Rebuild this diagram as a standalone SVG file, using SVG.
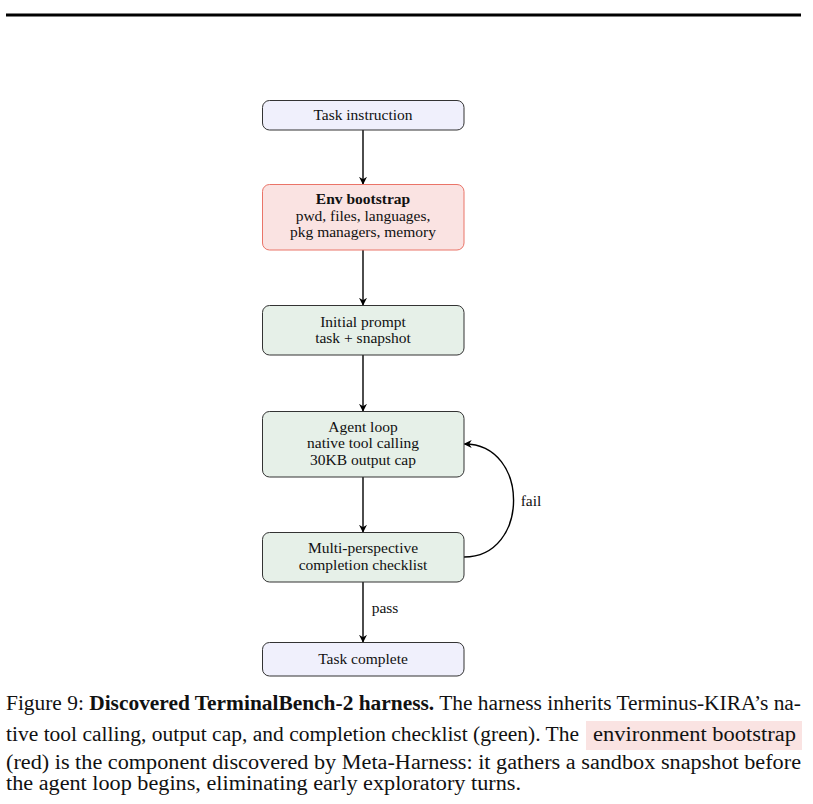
<svg xmlns="http://www.w3.org/2000/svg" width="813" height="804" viewBox="0 0 813 804">
<style>
.box{stroke:#333;stroke-width:1}
.blue{fill:#f0f0fc}
.green{fill:#e6f0e8}
.red{fill:#fae3e2;stroke:#ea7468;stroke-width:1}
.t{font-family:"Liberation Serif","DejaVu Serif",serif;font-size:15.5px;fill:#111;text-anchor:middle}
.b{font-weight:bold}
.c{font-family:"Liberation Serif","DejaVu Serif",serif;font-size:20px;fill:#111}
.conn{stroke:#000;stroke-width:1.4;fill:none}
</style>
<defs>
<marker id="ah" viewBox="0 0 10 10" refX="9" refY="5" markerWidth="8" markerHeight="8" markerUnits="userSpaceOnUse" orient="auto">
<path d="M0,0 L10,5 L0,10 L3,5 Z" fill="#000"/>
</marker>
</defs>
<rect x="6" y="13.5" width="795" height="3" fill="#000"/>

<g id="connectors">
<line class="conn" x1="363" y1="130" x2="363" y2="184" marker-end="url(#ah)"/>
<line class="conn" x1="363" y1="250" x2="363" y2="305" marker-end="url(#ah)"/>
<line class="conn" x1="363" y1="355" x2="363" y2="411" marker-end="url(#ah)"/>
<line class="conn" x1="363" y1="477" x2="363" y2="532" marker-end="url(#ah)"/>
<line class="conn" x1="363" y1="582" x2="363" y2="642" marker-end="url(#ah)"/>
<path class="conn" d="M464,557 C530,557 530,444 464.5,444" marker-end="url(#ah)"/>
<text class="t" x="531" y="506">fail</text>
<text class="t" x="385" y="613">pass</text>
</g>

<g id="task_instruction">
<rect class="box blue" x="262.5" y="100.5" width="201.5" height="29.5" rx="7"/>
<text class="t" x="363" y="120">Task instruction</text>
</g>
<g id="env_bootstrap">
<rect class="red" x="262.5" y="184.5" width="201.5" height="65.5" rx="7"/>
<text class="t b" x="363" y="204">Env bootstrap</text>
<text class="t" x="363" y="220.5">pwd, files, languages,</text>
<text class="t" x="363" y="237">pkg managers, memory</text>
</g>
<g id="initial_prompt">
<rect class="box green" x="262.5" y="305.5" width="201.5" height="49.5" rx="7"/>
<text class="t" x="363" y="326.5">Initial prompt</text>
<text class="t" x="363" y="343">task + snapshot</text>
</g>
<g id="agent_loop">
<rect class="box green" x="262.5" y="411.5" width="201.5" height="65.5" rx="7"/>
<text class="t" x="363" y="431.5">Agent loop</text>
<text class="t" x="363" y="448">native tool calling</text>
<text class="t" x="363" y="464.5">30KB output cap</text>
</g>
<g id="checklist">
<rect class="box green" x="262.5" y="532.5" width="201.5" height="49.5" rx="7"/>
<text class="t" x="363" y="553">Multi-perspective</text>
<text class="t" x="363" y="569.5">completion checklist</text>
</g>
<g id="task_complete">
<rect class="box blue" x="262.5" y="642.5" width="201.5" height="33.5" rx="7"/>
<text class="t" x="363" y="663.5">Task complete</text>
</g>

<g id="caption">
<rect x="586" y="721" width="216" height="29" fill="#fae3e2"/>
<text class="c" x="6" y="710" textLength="795" lengthAdjust="spacingAndGlyphs">Figure 9: <tspan font-weight="bold">Discovered TerminalBench-2 harness.</tspan> The harness inherits Terminus-KIRA’s na-</text>
<text class="c" x="6" y="741" textLength="573" lengthAdjust="spacingAndGlyphs">tive tool calling, output cap, and completion checklist (green). The</text>
<text class="c" x="593" y="741" textLength="203" lengthAdjust="spacingAndGlyphs">environment bootstrap</text>
<text class="c" x="6" y="769" textLength="795" lengthAdjust="spacingAndGlyphs">(red) is the component discovered by Meta-Harness: it gathers a sandbox snapshot before</text>
<text class="c" x="6" y="790" textLength="515" lengthAdjust="spacingAndGlyphs">the agent loop begins, eliminating early exploratory turns.</text>
</g>
</svg>
